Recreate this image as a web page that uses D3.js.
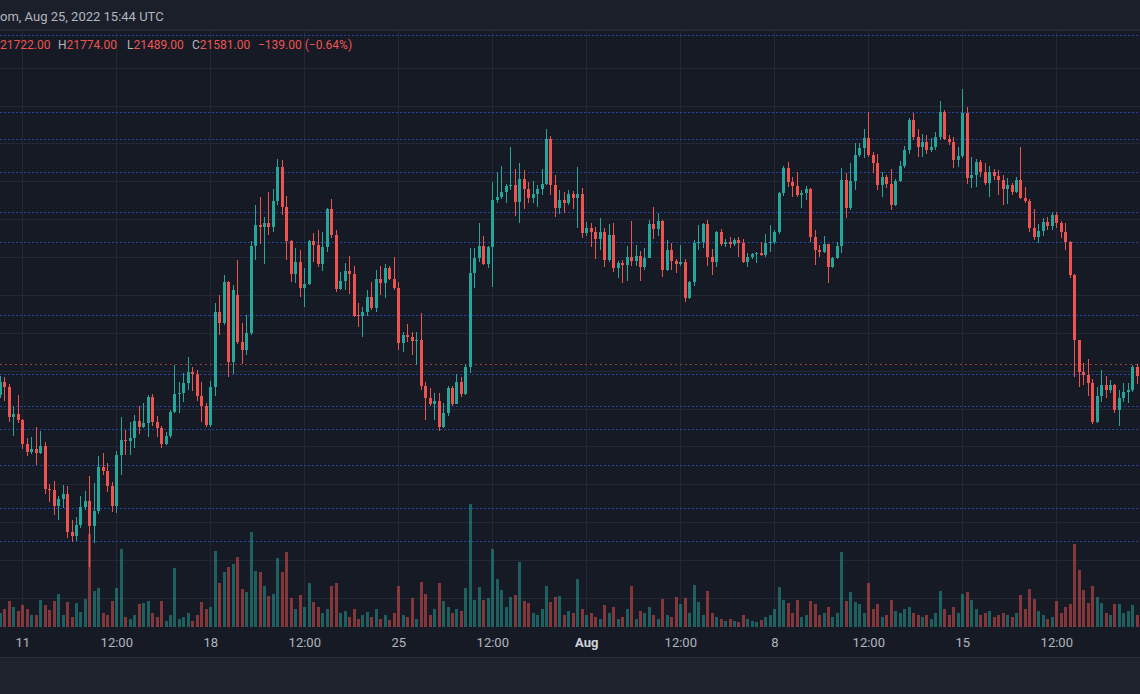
<!DOCTYPE html>
<html><head><meta charset="utf-8">
<script src="https://cdn.jsdelivr.net/npm/d3@7"></script>
<style>html,body{margin:0;padding:0;background:#161a25;overflow:hidden}svg{display:block}</style>
</head><body><svg id="c" width="1140" height="694"></svg>
<script>
// ---- DATA (BTCUSD, 4h candles, from Jul 10 04:00 UTC) ----
const openP = [21179,21351,21285,20889,20928,
20849,20532,20427,20466,20413,20506,19938,19925,19714,19806,
19872,19371,19318,19463,19701,19780,19450,19648,20229,20176,
19978,19714,20387,20585,20572,20611,20836,20757,20809,21153,
20823,20743,20532,20638,20955,21192,21205,21337,21483,21456,
21166,21034,20783,21285,22275,22129,22671,21615,22500,21879,
21773,21997,23146,23423,23397,23449,23397,23740,24189,23661,
23212,22776,22935,22591,22644,23212,23159,22908,23133,23634,
23291,22578,22684,22816,22776,22235,22222,22275,22473,22327,
22710,22657,22855,22710,22591,21865,21971,21945,21892,21905,
21298,21139,21060,21100,20757,20941,21271,21060,21351,21192,
21549,22789,22987,23146,22908,23133,23753,23793,23859,23938,
23951,23727,24030,23898,23780,23833,23898,23964,24558,23951,
23647,23753,23713,23833,23780,23833,23317,23383,23331,23238,
23331,22961,23291,22855,22921,22895,23001,22948,23014,22869,
22987,23436,23370,23476,22829,23093,22948,22908,22935,22459,
22671,23185,23199,23436,23001,22935,23331,23172,23199,23172,
23225,23185,22935,23001,23040,23053,23027,23185,23199,23331,
23846,24175,23991,23938,23819,23846,23898,23264,23093,23067,
23172,22869,22987,23146,24017,23647,24004,24347,24439,24571,
24347,24241,23951,24057,23964,23687,24004,24202,24413,24809,
24585,24453,24519,24413,24453,24585,24915,24558,24519,24281,
24334,24902,24043,24083,24255,24123,23977,24123,24070,24017,
23898,23951,23859,24017,23780,23740,23383,23264,23344,23462,
23410,23555,23449,23331,23199,22763,21905,21483,21443,21337,
20823,21166,21311,21245,21311,20981,21139,21218,21245,21549];
const highP = [21430,21417,21324,21034,21179,
20862,20611,20625,20757,20704,20559,20004,20044,19846,19991,
19978,19529,19569,19846,19912,20110,20017,20374,20413,20281,
20031,20440,20889,20717,20823,20915,21034,21073,21179,21192,
20902,20770,20691,20981,21575,21351,21469,21681,21549,21509,
21351,21073,21364,22393,22499,22763,22684,22631,22961,22129,
22235,23212,23687,23793,23529,23859,23898,24294,24281,23806,
23225,23119,23093,22855,23225,23317,23357,23331,23647,23766,
23357,22803,22921,23014,22882,22393,22341,22565,22671,22829,
22882,22908,22882,23001,22671,22011,22116,22011,22011,22261,
21351,21271,21205,21205,21073,21298,21298,21456,21417,21588,
23119,23119,23449,23278,23146,23991,24123,24202,23964,24453,
24162,24241,24149,23991,24004,23951,24162,24690,24598,24083,
23885,23859,23885,23872,24189,23911,23462,23449,23397,23515,
23383,23436,23449,22948,22961,23146,23476,23159,23080,23119,
23489,23661,23581,23489,23225,23185,22974,23159,22974,22684,
23225,23423,23449,23489,23106,23344,23370,23238,23264,23251,
23264,23238,23053,23053,23067,23199,23304,23423,23357,23859,
24202,24255,24057,24123,23885,23938,23911,23357,23159,23278,
23172,23001,23199,24175,24109,24241,24505,24505,24690,24915,
24387,24360,24123,24083,24162,24030,24268,24466,24835,24902,
24690,24624,24611,24571,24651,25060,24941,24611,24585,24453,
25218,24981,24321,24294,24281,24241,24202,24162,24149,24083,
24043,23977,24057,24453,23925,23766,23634,23436,23515,23529,
23594,23594,23476,23449,23212,22776,21905,21601,21654,21390,
21285,21509,21430,21377,21324,21245,21337,21337,21575,21588];
const lowP = [21139,21100,20823,20638,20809,
20466,20374,20400,20255,20400,19872,19767,19595,19529,19687,
19291,19239,19252,19423,19661,18910,19225,19608,20123,19899,
19635,19621,20123,20387,20387,20479,20664,20743,20625,20770,
20625,20479,20519,20611,20941,20941,21087,21245,21232,21100,
20823,20757,20757,21166,21971,22103,21417,21456,21852,21588,
21707,21971,22961,23172,22908,23291,23331,23687,23555,22961,
22671,22657,22473,22341,22631,22935,22869,22816,23067,23251,
22539,22565,22565,22512,22208,22077,21945,22222,22301,22275,
22499,22459,22697,22565,21773,21747,21879,21707,21575,21245,
20849,21034,20849,20704,20743,20902,21034,21073,21153,21179,
21469,22591,22935,22895,22855,22605,23713,23766,23713,23885,
23542,23449,23634,23713,23713,23661,23819,23951,23819,23529,
23568,23581,23687,23634,23383,23251,23278,23133,22974,23093,
22869,22935,22803,22723,22657,22684,22882,22882,22684,22829,
22987,23238,23278,22737,22816,22829,22789,22882,22407,22446,
22618,23093,23119,22882,22763,22869,23146,23133,23119,23146,
23001,22921,22869,22974,22921,23014,23001,23067,23172,23304,
23806,23925,23793,23793,23647,23753,23199,22895,23001,23053,
22657,22855,22974,23053,23515,23621,23885,24321,24307,24321,
24109,23885,23793,23911,23621,23674,23991,24175,24360,24545,
24321,24321,24360,24387,24413,24545,24545,24479,24175,24189,
24307,23964,23911,23925,24057,23951,23793,24017,23819,23687,
23700,23819,23846,23766,23713,23331,23225,23185,23278,23357,
23357,23383,23251,23093,22723,21417,21285,21311,21166,20796,
20809,21087,21139,21205,20941,20770,21087,21073,21218,21324];
const closeP = [21351,21285,20889,20928,20849,
20532,20427,20466,20413,20506,19938,19925,19714,19806,19872,
19371,19318,19463,19701,19780,19450,19648,20229,20176,19978,
19714,20387,20585,20572,20611,20836,20757,20809,21153,20823,
20743,20532,20638,20955,21192,21205,21337,21483,21456,21166,
21034,20783,21285,22275,22129,22671,21615,22565,21879,21773,
21997,23146,23423,23397,23449,23397,23740,24189,23661,23212,
22776,22935,22591,22644,23212,23159,22908,23133,23634,23291,
22578,22684,22816,22776,22222,22222,22275,22473,22327,22710,
22657,22855,22710,22591,21865,21971,21945,21892,21905,21298,
21139,21060,21100,20757,20941,21271,21060,21351,21192,21549,
22789,22987,23146,22908,23133,23753,23793,23859,23938,23951,
23727,24030,23898,23780,23833,23898,23964,24558,23951,23647,
23753,23713,23833,23780,23833,23317,23383,23331,23238,23331,
22961,23291,22855,22921,22895,23001,22948,23014,22869,22987,
23436,23370,23476,22829,23093,22948,22908,22935,22459,22671,
23185,23199,23436,23001,22935,23331,23172,23199,23172,23225,
23185,22935,23001,23040,23053,23027,23185,23199,23331,23846,
24175,23991,23938,23819,23846,23898,23264,23093,23067,23172,
22869,22987,23146,24017,23647,24004,24347,24439,24571,24347,
24241,23951,24057,23964,23687,24004,24202,24413,24809,24585,
24453,24519,24413,24453,24585,24915,24558,24519,24281,24334,
24902,24043,24083,24255,24123,23977,24123,24070,24017,23898,
23951,23859,24017,23780,23740,23383,23264,23344,23462,23410,
23555,23449,23331,23199,22763,21905,21483,21443,21337,20823,
21166,21311,21245,21311,20981,21139,21218,21245,21549,21430];
const volume = [1400,1800,2600,2000,1600,
2200,1800,1200,1200,2750,2200,1700,2650,3350,1200,
2550,1000,2450,1500,2850,9350,3650,3950,1400,1200,
2650,3950,7850,1000,800,1200,2300,2450,2650,1400,
1000,2650,600,1200,5900,800,1000,1400,600,1200,
2500,1800,2000,7650,4400,5500,6050,6300,7050,3850,
3500,9550,5650,5550,4100,3150,3350,6950,5550,7500,
2950,1800,3250,2000,4450,2500,2000,1400,1800,4150,
4450,1400,1600,1000,1800,800,1200,1500,1000,1800,
800,1200,700,1400,4150,1200,1000,2950,800,4550,
3300,1200,1800,4450,2650,2000,1400,1800,1600,3950,
12300,2750,4000,2750,2950,7800,4800,3700,2000,3000,
3200,6550,2650,2450,1400,1200,1800,4150,2500,3050,
3150,1200,1600,1400,4800,1800,1200,1400,1000,800,
2250,1400,2000,800,1000,1800,4100,800,1600,1400,
2000,1200,800,2800,1200,1000,3050,2300,2900,1400,
4250,2550,1200,3650,1400,1000,800,600,800,600,
500,1200,800,600,500,700,1000,1200,1800,4000,
2750,2450,1400,2750,1000,1200,2650,2350,1200,1400,
2000,1000,1400,7550,2650,3500,2500,2350,1400,4400,
1800,2350,1000,1200,2750,1600,1400,1800,2000,1400,
1200,1000,1200,800,1400,3650,1800,1200,2000,1400,
3300,3500,2750,1800,1200,1400,1600,1000,1200,1400,
1200,1000,1400,3200,1800,3800,2800,1600,1200,800,
1000,2650,1400,2000,2350,8300,5750,3700,2450,4150,
3050,2450,1400,1200,2350,2350,1400,1600,2250,1200];
const firstCandle = "2022-07-10T04:00:00Z";
const candleHours = 4;
const tickDates = ["2022-07-11T00:00:00Z","2022-07-14T12:00:00Z","2022-07-18T00:00:00Z","2022-07-21T12:00:00Z",
  "2022-07-25T00:00:00Z","2022-07-28T12:00:00Z","2022-08-01T00:00:00Z","2022-08-04T12:00:00Z",
  "2022-08-08T00:00:00Z","2022-08-11T12:00:00Z","2022-08-15T00:00:00Z","2022-08-18T12:00:00Z"];
const tickLabels = ["11","12:00","18","12:00","25","12:00","Aug","12:00","8","12:00","15","12:00"];
const gridPrices = [18500,19000,19500,20000,20500,21000,21500,22000,22500,23000,23500,24000,24500,25000,25500,26000];
const levelPrices = [25931,24911,24558,24126,23599,23203,22228,21456,21034,20730,20251,19687,19256];
const lastPrice = 21581;
const headerText = "om, Aug 25, 2022 15:44 UTC";
const ohlcParts = [
  {x:0, label:"", value:"21722.00"},
  {x:58, label:"H", value:"21774.00"},
  {x:127, label:"L", value:"21489.00"},
  {x:192, label:"C", value:"21581.00"},
  {x:258, label:"", value:"\u2212139.00 (\u22120.64%)"}
];

// ---- DRAW ----
const W=1140, H=694, paneTop=29, paneBottom=627, axisBottom=657;
const UP="#26a69a", DN="#ef5350", TXT="#b2b5be", FONT="Roboto, 'Noto Sans', sans-serif";
const svg=d3.select("#c");
const x=d3.scaleUtc().domain([new Date(Date.UTC(2022,6,11)),new Date(Date.UTC(2022,7,15))]).range([22.3,962.3]);
const y=d3.scaleLinear().domain([19000,25000]).range([560,105.5]);
const yv=d3.scaleLinear().domain([0,10000]).range([paneBottom,paneBottom-100]);
const t0=new Date(firstCandle);
const data=closeP.map((c,k)=>({d:d3.utcHour.offset(t0,k*candleHours),o:openP[k],h:highP[k],l:lowP[k],c:c,v:volume[k]}));

svg.append("rect").attr("width",W).attr("height",H).attr("fill","#161a25");
svg.append("rect").attr("width",W).attr("height",paneTop).attr("fill","#1b1f2a");
svg.append("rect").attr("y",axisBottom).attr("width",W).attr("height",H-axisBottom).attr("fill","#1e222d");
svg.append("line").attr("x1",0).attr("x2",W).attr("y1",axisBottom+0.5).attr("y2",axisBottom+0.5).attr("stroke","#2a2e39");
svg.append("line").attr("x1",0).attr("x2",W).attr("y1",paneTop+0.5).attr("y2",paneTop+0.5).attr("stroke","#232733");

svg.append("defs").append("clipPath").attr("id","clip").append("rect")
  .attr("x",0).attr("y",paneTop+1).attr("width",W).attr("height",paneBottom-paneTop-1);
const pane=svg.append("g").attr("clip-path","url(#clip)");

// grid
const grid=pane.append("g").attr("stroke","#242834").attr("shape-rendering","crispEdges");
grid.selectAll("line.h").data(gridPrices).join("line").attr("class","h")
  .attr("x1",0).attr("x2",W).attr("y1",d=>Math.round(y(d))+0.5).attr("y2",d=>Math.round(y(d))+0.5);
grid.selectAll("line.v").data(tickDates).join("line").attr("class","v")
  .attr("y1",paneTop).attr("y2",paneBottom).attr("x1",d=>Math.round(x(new Date(d)))+0.5).attr("x2",d=>Math.round(x(new Date(d)))+0.5);

// horizontal levels
pane.append("g").selectAll("line").data(levelPrices).join("line")
  .attr("x1",0).attr("x2",W).attr("y1",d=>Math.round(y(d))+0.5).attr("y2",d=>Math.round(y(d))+0.5)
  .attr("stroke","#2962ff").attr("stroke-opacity",0.6).attr("stroke-dasharray","2 2");
pane.append("line").attr("x1",0).attr("x2",W)
  .attr("y1",Math.round(y(lastPrice))+0.5).attr("y2",Math.round(y(lastPrice))+0.5)
  .attr("stroke",DN).attr("stroke-opacity",0.6).attr("stroke-dasharray","2 3");

// volume
pane.append("g").attr("shape-rendering","crispEdges").selectAll("rect").data(data).join("rect")
  .attr("x",d=>Math.round(x(d.d))-1).attr("width",3)
  .attr("y",d=>yv(d.v)).attr("height",d=>paneBottom-yv(d.v))
  .attr("fill",d=>d.c>=d.o?UP:DN).attr("fill-opacity",0.5);

// candles
const cg=pane.append("g").attr("shape-rendering","crispEdges");
cg.selectAll("line").data(data).join("line")
  .attr("x1",d=>Math.round(x(d.d))+0.5).attr("x2",d=>Math.round(x(d.d))+0.5)
  .attr("y1",d=>y(Math.max(d.h,d.o,d.c))).attr("y2",d=>y(Math.min(d.l,d.o,d.c)))
  .attr("stroke",d=>d.c>=d.o?UP:DN);
cg.selectAll("rect").data(data).join("rect")
  .attr("x",d=>Math.round(x(d.d))-1).attr("width",3)
  .attr("y",d=>y(Math.max(d.o,d.c)))
  .attr("height",d=>Math.max(1,Math.abs(y(d.o)-y(d.c))))
  .attr("fill",d=>d.c>=d.o?UP:DN);

// time axis
const ax=d3.axisBottom(x).tickValues(tickDates.map(d=>new Date(d))).tickSize(0).tickPadding(0)
  .tickFormat((d,i)=>tickLabels[i]);
const axg=svg.append("g").attr("transform",`translate(0,${paneBottom})`).call(ax);
axg.select(".domain").remove();
axg.selectAll("text").attr("y",20).attr("dy",0)
  .style("font-family",FONT).style("font-size","13px")
  .style("font-weight",(d,i)=>tickLabels[i]==="Aug"?"bold":"normal")
  .attr("fill",(d,i)=>tickLabels[i]==="Aug"?"#d1d4dc":TXT);

// header texts
svg.append("text").attr("x",0).attr("y",20.5).attr("fill",TXT)
  .style("font-family",FONT).style("font-size","13px").text(headerText);
const og=svg.append("g").style("font-family",FONT).style("font-size","12px");
ohlcParts.forEach(p=>{
  const t=og.append("text").attr("x",p.x).attr("y",49);
  if(p.label) t.append("tspan").attr("fill",TXT).text(p.label);
  t.append("tspan").attr("fill",DN).text(p.value);
});
</script></body></html>
